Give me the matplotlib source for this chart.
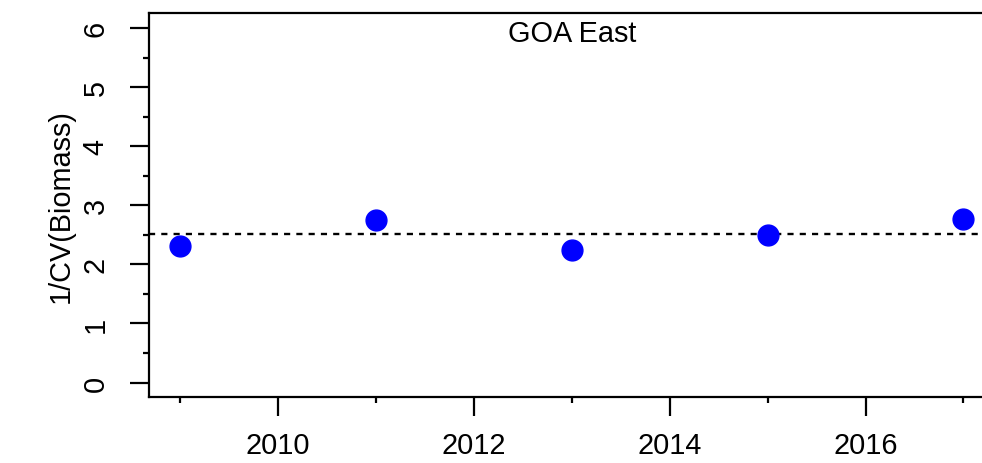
import numpy as np
import matplotlib
matplotlib.use("Agg")
import matplotlib.pyplot as plt
from matplotlib.ticker import MultipleLocator

plt.rcParams['font.family'] = ['Liberation Sans', 'DejaVu Sans']

years = [2009, 2011, 2013, 2015, 2017]
inv_cv = [2.31, 2.75, 2.25, 2.49, 2.77]
mean_line = 2.52
region = "GOA East"

fig = plt.figure(figsize=(9.82, 4.64), dpi=100)
# the box is cut off at the right edge of the picture, as in the reference
ax = fig.add_axes([149/982, 1 - 398.3/464, 833/982, 384/464])

ax.axhline(mean_line, color='black', lw=1.7, dashes=(2.6, 2.6))
ax.plot(years, inv_cv, 'o', color='blue', ms=15, mec='blue', zorder=3)

ax.set_xlim(2008.68, 2017.19)
ax.set_ylim(-0.25, 6.25)
ax.xaxis.set_major_locator(MultipleLocator(2))
ax.xaxis.set_minor_locator(MultipleLocator(1))
ax.yaxis.set_major_locator(MultipleLocator(1))
ax.yaxis.set_minor_locator(MultipleLocator(0.5))

for s in ax.spines.values():
    s.set_linewidth(1.6)
ax.spines['right'].set_visible(False)

ax.tick_params(axis='both', which='major', length=13.5, width=1.6,
               labelsize=20.8, direction='out')
ax.tick_params(axis='both', which='minor', length=4.5, width=1.6,
               direction='out')
ax.tick_params(axis='x', which='major', pad=11)
ax.tick_params(axis='y', which='major', pad=15)
for lab in ax.get_yticklabels():
    lab.set_rotation(90)
    lab.set_va('center')

ax.set_ylabel("1/CV(Biomass)", fontsize=20.8, labelpad=5)
ax.text(0.5 * 846 / 833, 0.928, region, transform=ax.transAxes, ha='center',
        va='baseline', fontsize=20.8)

fig.savefig("out.png", dpi=100)
